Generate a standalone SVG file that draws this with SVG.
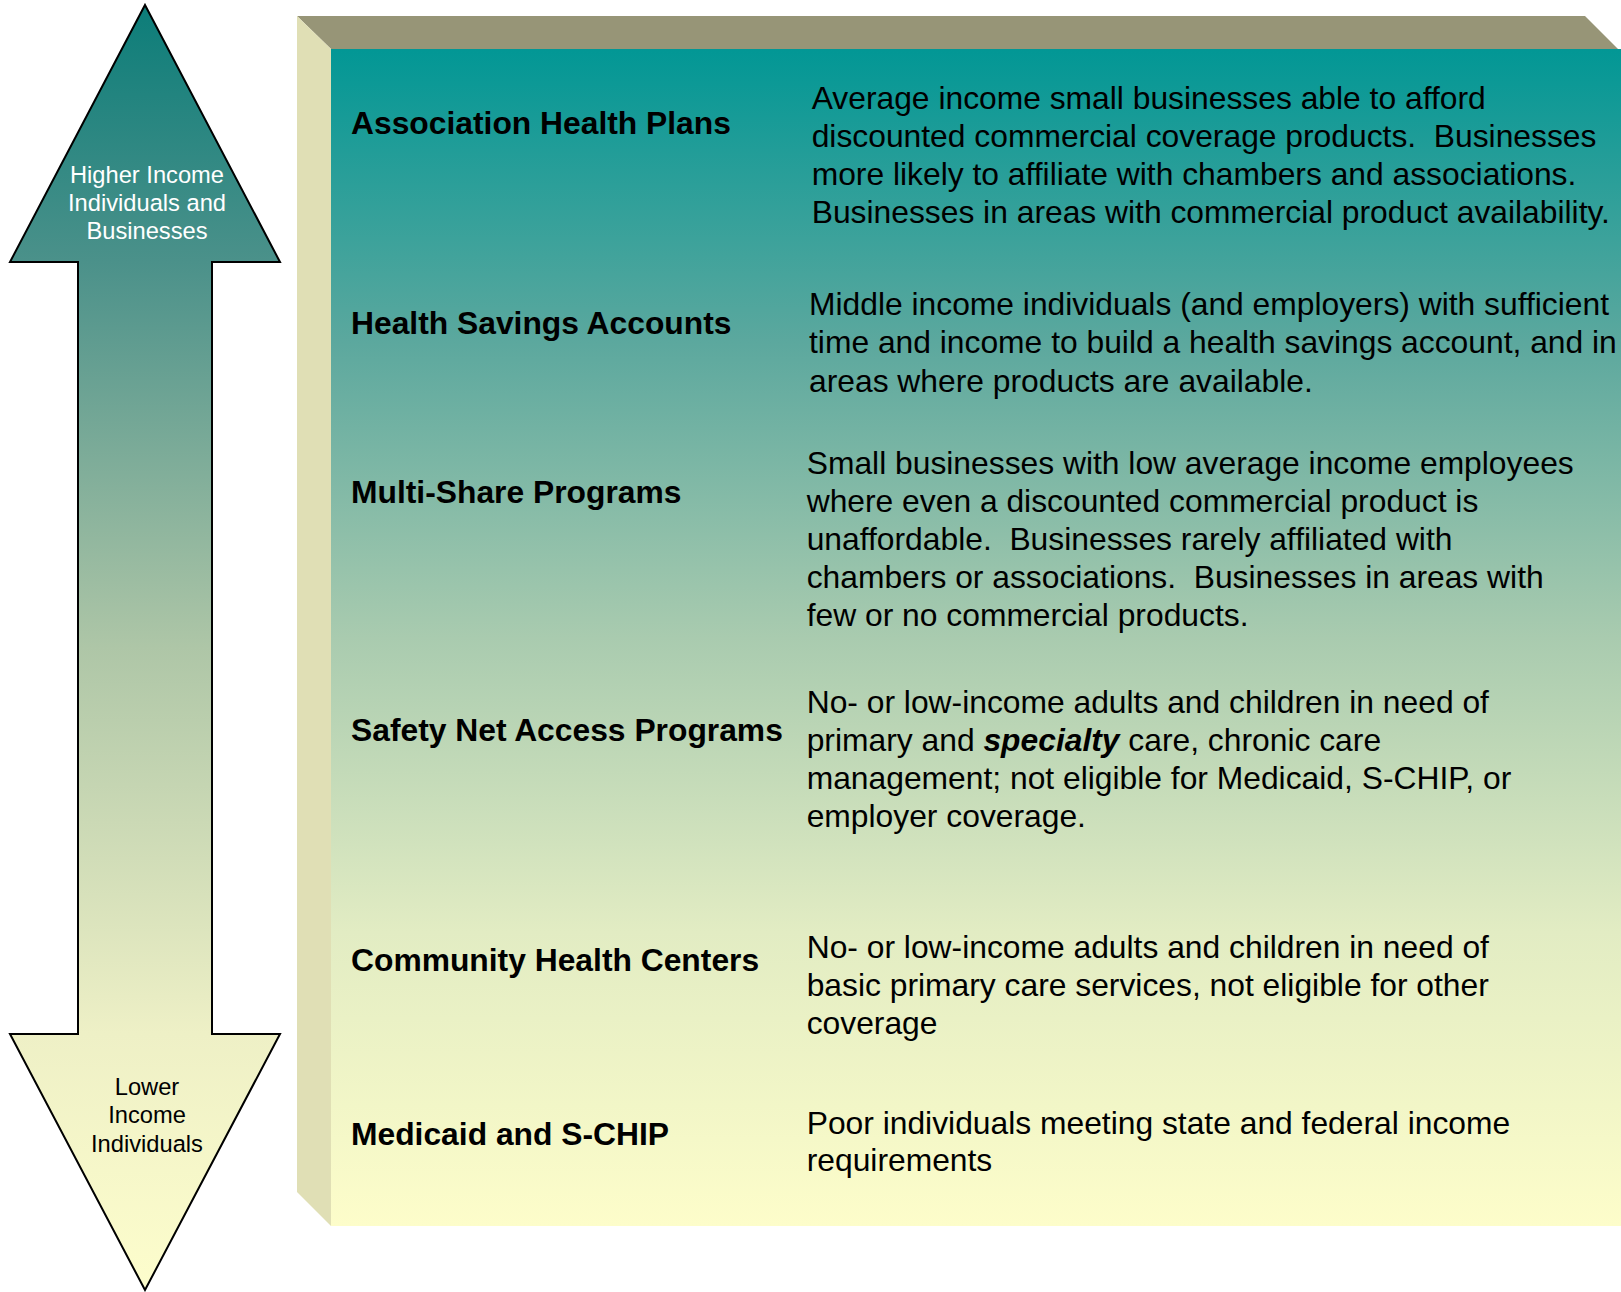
<svg xmlns="http://www.w3.org/2000/svg" width="1621" height="1292" viewBox="0 0 1621 1292">
<style>
.lbl{font-family:"Liberation Sans",Arial,sans-serif;font-size:31.8px;font-weight:bold;fill:#000}
.body{font-family:"Liberation Sans",Arial,sans-serif;font-size:31.8px;fill:#000;white-space:pre}
.arr{font-family:"Liberation Sans",Arial,sans-serif;font-size:23.7px;text-anchor:middle}
</style>
<defs>
<linearGradient id="faceGrad" x1="0" y1="49" x2="0" y2="1226" gradientUnits="userSpaceOnUse">
<stop offset="0" stop-color="#029795"/>
<stop offset="0.25" stop-color="#5ca89e"/>
<stop offset="0.5" stop-color="#a9cbaf"/>
<stop offset="0.75" stop-color="#e2ecc3"/>
<stop offset="1" stop-color="#fdfdca"/>
</linearGradient>
<linearGradient id="arrowGrad" x1="0" y1="5" x2="0" y2="1290" gradientUnits="userSpaceOnUse">
<stop offset="0" stop-color="#0c7d79"/>
<stop offset="0.2" stop-color="#4b918a"/>
<stop offset="0.5" stop-color="#aec6a7"/>
<stop offset="0.8" stop-color="#eef0c6"/>
<stop offset="1" stop-color="#fdfdcc"/>
</linearGradient>
</defs>

<g id="income-arrow">
<polygon points="145,5 280,262 212,262 212,1034 280,1034 145,1290 10,1034 78,1034 78,262 10,262" fill="url(#arrowGrad)" stroke="#000" stroke-width="2" stroke-linejoin="miter"/>
<text class="arr" fill="#ffffff"><tspan x="147" y="183">Higher Income</tspan><tspan x="147" y="211">Individuals and</tspan><tspan x="147" y="239">Businesses</tspan></text>
<text class="arr" fill="#000000"><tspan x="147" y="1095">Lower</tspan><tspan x="147" y="1123">Income</tspan><tspan x="147" y="1152">Individuals</tspan></text>
</g>

<g id="box">
<polygon points="297,16 1585,16 1618,49 331,49" fill="#979577"/>
<polygon points="297,16 331,49 331,1226 297,1192" fill="#e0dfb5"/>
<rect x="331" y="49" width="1290" height="1177" fill="url(#faceGrad)"/>
</g>

<g id="row-ahp">
<text class="lbl" x="351" y="134">Association Health Plans</text>
<text class="body"><tspan x="811.7" y="109.3">Average income small businesses able to afford</tspan><tspan x="811.7" y="147.3">discounted commercial coverage products.  Businesses</tspan><tspan x="811.7" y="185.3">more likely to affiliate with chambers and associations.</tspan><tspan x="811.7" y="223.3">Businesses in areas with commercial product availability.</tspan></text>
</g>

<g id="row-hsa">
<text class="lbl" x="351" y="334">Health Savings Accounts</text>
<text class="body"><tspan x="809" y="315">Middle income individuals (and employers) with sufficient</tspan><tspan x="809" y="353.3">time and income to build a health savings account, and in</tspan><tspan x="809" y="391.7">areas where products are available.</tspan></text>
</g>

<g id="row-msp">
<text class="lbl" x="351" y="503.3">Multi-Share Programs</text>
<text class="body"><tspan x="806.7" y="474.3">Small businesses with low average income employees</tspan><tspan x="806.7" y="512.3">where even a discounted commercial product is</tspan><tspan x="806.7" y="550">unaffordable.  Businesses rarely affiliated with</tspan><tspan x="806.7" y="588">chambers or associations.  Businesses in areas with</tspan><tspan x="806.7" y="626">few or no commercial products.</tspan></text>
</g>

<g id="row-snap">
<text class="lbl" x="351" y="741">Safety Net Access Programs</text>
<text class="body"><tspan x="806.7" y="712.7">No- or low-income adults and children in need of</tspan><tspan x="806.7" y="750.7">primary and <tspan font-weight="bold" font-style="italic">specialty</tspan> care, chronic care</tspan><tspan x="806.7" y="789">management; not eligible for Medicaid, S-CHIP, or</tspan><tspan x="806.7" y="826.7">employer coverage.</tspan></text>
</g>

<g id="row-chc">
<text class="lbl" x="351" y="971">Community Health Centers</text>
<text class="body"><tspan x="806.7" y="958.3">No- or low-income adults and children in need of</tspan><tspan x="806.7" y="996">basic primary care services, not eligible for other</tspan><tspan x="806.7" y="1034">coverage</tspan></text>
</g>

<g id="row-medicaid">
<text class="lbl" x="351" y="1145">Medicaid and S-CHIP</text>
<text class="body"><tspan x="806.7" y="1134">Poor individuals meeting state and federal income</tspan><tspan x="806.7" y="1171">requirements</tspan></text>
</g>

<g id="connectors"></g>
</svg>
